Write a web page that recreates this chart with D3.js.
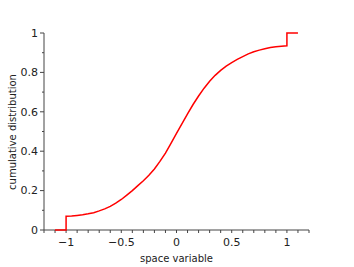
<!DOCTYPE html>
<html><head><meta charset="utf-8">
<script src="https://cdn.jsdelivr.net/npm/d3@7"></script>
<style>body{margin:0;background:#fff}svg{display:block}text{font-family:"DejaVu Sans",sans-serif}</style>
</head><body><svg id="c" width="354" height="267"></svg>
<script>
const xs = [-1.0,-0.95,-0.9,-0.85,-0.8,-0.75,-0.7,-0.65,-0.6,-0.55,-0.5,-0.45,-0.4,-0.35,-0.3,-0.25,-0.2,-0.15,-0.1,-0.05,0.0,
            0.05,0.1,0.15,0.2,0.25,0.3,0.35,0.4,0.45,0.5,0.55,0.6,0.65,0.7,0.75,0.8,0.85,0.9,0.95,1.0];
const cdf = [0.07,0.071,0.074,0.077,0.082,0.088,0.097,0.107,0.12,0.136,0.155,0.177,0.20,0.225,0.25,0.278,0.31,0.348,0.39,0.44,0.49,
             0.54,0.59,0.637,0.68,0.72,0.755,0.785,0.81,0.832,0.85,0.866,0.88,0.894,0.905,0.913,0.92,0.926,0.93,0.933,0.935];
const xMajor = [-1,-0.5,0,0.5,1];
const yMajor = [0,0.2,0.4,0.6,0.8,1];
const xLabel = "space variable";
const yLabel = "cumulative distribution";

const svg = d3.select("#c");
const x = d3.scaleLinear().domain([-1.2,1.2]).range([44,309]);
const y = d3.scaleLinear().domain([0,1]).range([230,33]);

const fmt = d => d === 0 ? "0" : (d < 0 ? "\u2212" : "") + String(Math.abs(d));

const xMinor = d3.range(-12, 13).map(i => i/10);
const gx = svg.append("g").attr("transform","translate(0,230)");
gx.append("line").attr("x1",44).attr("x2",309).attr("stroke","#444").attr("stroke-width",1);
gx.selectAll("line.m").data(xMinor).enter().append("line").attr("class","m")
  .attr("x1",d=>x(d)).attr("x2",d=>x(d)).attr("y1",0).attr("y2",3).attr("stroke","#444");
gx.selectAll("text").data(xMajor).enter().append("text")
  .attr("x",d=>x(d)).attr("y",16).attr("text-anchor","middle").attr("font-size",11).attr("fill","#222").text(fmt);

const yMinor = d3.range(0, 11).map(i => i/10);
const gy = svg.append("g").attr("transform","translate(44,0)");
gy.append("line").attr("y1",y(0)).attr("y2",y(1)).attr("stroke","#444");
gy.selectAll("line.m").data(yMinor).enter().append("line").attr("class","m")
  .attr("y1",d=>y(d)).attr("y2",d=>y(d)).attr("x1",0).attr("x2",d=> (Math.round(d*10)%2===0)?-4:-2).attr("stroke","#444");
gy.selectAll("text").data(yMajor).enter().append("text")
  .attr("x",-6).attr("y",d=>y(d)).attr("dy","0.35em").attr("text-anchor","end").attr("font-size",11).attr("fill","#222").text(fmt);

svg.append("text").attr("x",176.5).attr("y",262).attr("text-anchor","middle").attr("font-size",10).attr("fill","#222").text(xLabel);
svg.append("text").attr("transform","translate(16,132) rotate(-90)").attr("text-anchor","middle").attr("font-size",10).attr("fill","#222").text(yLabel);

const pts = [[-1.1,0],[-1,0]].concat(xs.map((v,i)=>[v,cdf[i]])).concat([[1,1],[1.1,1]]);
svg.append("path").datum(pts).attr("fill","none").attr("stroke","#f00").attr("stroke-width",1.5)
  .attr("d", d3.line().x(d=>x(d[0])).y(d=>y(d[1])));
</script></body></html>
